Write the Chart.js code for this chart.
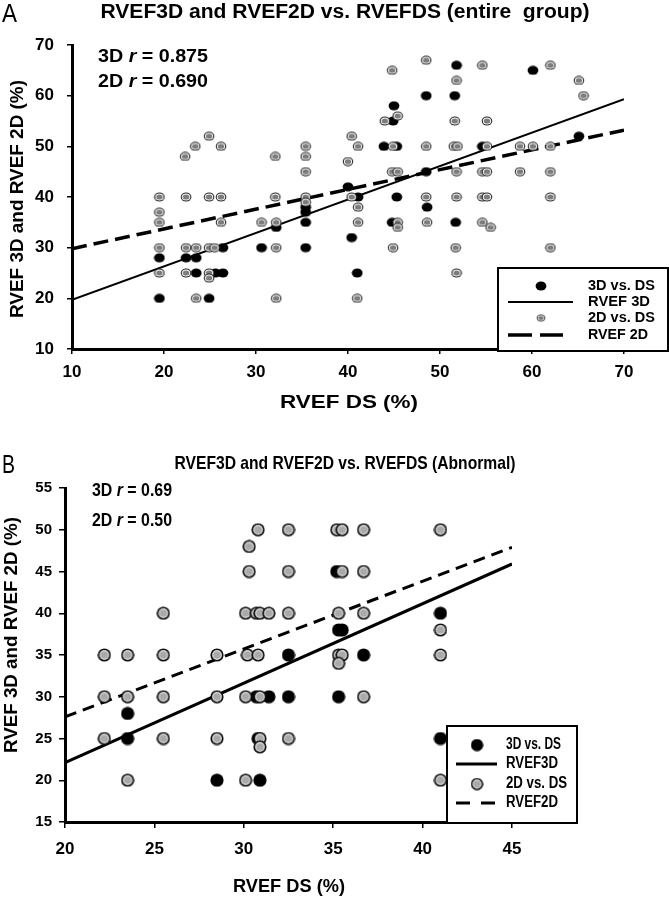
<!DOCTYPE html>
<html>
<head>
<meta charset="utf-8">
<script src="https://cdn.jsdelivr.net/npm/chart.js@4.4.1/dist/chart.umd.min.js"></script>
<style>
  body { margin: 0; background: #fff; overflow: hidden; }
  canvas { display: block; }
</style>
</head>
<body>
<canvas id="chartA" width="669" height="445"></canvas>
<canvas id="chartB" width="669" height="454"></canvas>
<script>
// panel A: entire group, [RVEF DS, RVEF 3D/2D]
const entire3D = [
  [19.5, 28], [19.5, 20], [22.4, 28], [23.5, 28], [23.5, 25], [24.9, 20], [25.6, 25], [26.4, 25],
  [26.4, 30], [30.6, 30], [32.2, 34], [35.4, 30], [35.4, 35], [35.4, 37], [35.4, 38], [40.4, 32],
  [40, 42], [41.1, 40], [41, 25], [43.9, 50], [45.3, 50], [44.9, 55], [45, 58], [45.3, 40],
  [44.8, 35], [48.5, 60], [48.5, 45], [48.6, 38], [51.8, 66], [51.6, 60], [51.7, 35], [54.6, 50],
  [60.1, 65], [65.1, 52]
];
const entire2D = [
  [19.5, 40], [19.5, 37], [19.5, 35], [19.5, 30], [19.5, 25],
  [22.3, 48], [22.4, 40], [22.4, 30], [22.4, 25], [23.4, 50], [23.5, 30], [23.5, 20],
  [24.9, 52], [24.9, 40], [24.9, 30], [24.9, 25], [24.9, 24], [25.5, 30],
  [26.2, 50], [26.2, 40], [26.2, 35], [30.6, 35],
  [32.1, 48], [32.1, 40], [32.2, 35], [32.2, 30], [32.2, 20],
  [35.4, 50], [35.4, 48], [35.4, 45], [35.4, 40], [35.4, 39],
  [40.4, 52], [41.1, 50], [40, 47], [40.4, 40], [41.1, 38], [41.1, 35], [41, 20],
  [44.8, 65], [44, 55], [45.4, 56], [44.9, 50], [44.8, 45], [45.4, 45], [45.4, 35], [45.4, 34], [44.9, 30],
  [48.5, 67], [48.5, 50], [48.5, 40], [48.6, 35],
  [51.8, 63], [51.6, 55], [51.5, 50], [51.9, 50], [51.8, 45], [51.8, 40], [51.7, 30], [51.8, 25],
  [54.6, 66], [55.1, 55], [55.1, 50], [54.6, 45], [55.1, 45], [54.6, 40], [55.1, 40], [54.6, 35], [55.5, 34],
  [58.7, 50], [60.1, 50], [62, 66], [62, 50], [58.7, 45], [62, 45], [62, 40], [62, 30],
  [65.1, 63], [65.6, 60]
];
const entireFit3D = [[10, 19.7], [70, 59.3]];
const entireFit2D = [[10, 29.8], [70, 53.2]];
const entireXTicks = [10, 20, 30, 40, 50, 60, 70];
const entireYTicks = [10, 20, 30, 40, 50, 60, 70];

// panel B: abnormal
const abn3D = [
  [23.5, 28], [23.5, 25], [28.5, 20], [30.9, 20], [30.7, 30], [31.4, 30], [32.5, 30], [35.3, 30],
  [30.8, 25], [32.5, 35], [35.3, 38], [35.5, 38], [35.2, 45], [36.7, 35], [41, 40], [41, 25]
];
const abn2D = [
  [22.2, 35], [23.5, 35], [25.5, 35], [28.5, 35], [30.2, 35], [30.8, 35], [35.3, 35], [35.5, 35], [35.3, 34],
  [22.2, 30], [23.5, 30], [25.5, 30], [28.5, 30], [30.1, 30], [30.9, 30], [36.7, 30],
  [22.2, 25], [25.5, 25], [28.5, 25], [30.9, 25], [30.9, 24], [32.5, 25],
  [23.5, 20], [30.1, 20], [41, 20],
  [25.5, 40], [30.1, 40], [30.7, 40], [30.9, 40], [31.4, 40], [32.5, 40], [35.3, 40], [36.7, 40],
  [41, 38], [41, 35],
  [30.3, 45], [32.5, 45], [35.5, 45], [36.7, 45], [30.3, 48],
  [30.8, 50], [32.5, 50], [35.2, 50], [35.5, 50], [36.7, 50], [41, 50]
];
const abnFit3D = [[20, 22.1], [45, 45.9]];
const abnFit2D = [[20, 27.6], [45, 47.9]];
const abnXTicks = [20, 25, 30, 35, 40, 45];
const abnYTicks = [15, 20, 25, 30, 35, 40, 45, 50, 55];

const SANS = "'Liberation Sans', Arial, sans-serif";
const toXY = pairs => pairs.map(([x, y]) => ({ x, y }));

function marker(w, h, rings) {
  const c = document.createElement('canvas');
  c.width = w; c.height = h;
  const g = c.getContext('2d');
  rings.forEach(([rx, ry, col]) => {
    g.fillStyle = col;
    g.beginPath();
    g.ellipse(w / 2, h / 2, rx, ry, 0, 0, Math.PI * 2);
    g.fill();
  });
  return c;
}

const markA3D = marker(12, 10, [[5.4, 4.5, '#000']]);
const markA2D = marker(12, 10, [[5.3, 4.6, '#262626'], [4.2, 3.5, '#fff'], [3.2, 2.6, '#7c7c7c']]);
const markB3D = marker(14, 14, [[6.6, 6.6, '#000']]);
const markB2D = marker(14, 14, [[6.6, 6.6, '#111'], [4.9, 4.9, '#d6d6d6'], [3.6, 3.6, '#a9a9a9']]);

// text squeezed/stretched to the width seen in the picture
function fitText(ctx, parts, cx, cy, w, rot) {
  ctx.save();
  let total = 0;
  parts.forEach(p => { ctx.font = p[1]; total += ctx.measureText(p[0]).width; });
  ctx.translate(cx, cy);
  if (rot) ctx.rotate(rot);
  ctx.scale(w / total, 1);
  ctx.textBaseline = 'middle';
  ctx.textAlign = 'left';
  ctx.fillStyle = '#000';
  let x = -total / 2;
  parts.forEach(p => {
    ctx.font = p[1];
    ctx.fillText(p[0], x, 0);
    x += ctx.measureText(p[0]).width;
  });
  ctx.restore();
}

const panelText = {
  id: 'panelText',
  afterDraw(chart, args, opts) {
    const ctx = chart.ctx;
    opts.items.forEach(it => fitText(ctx, it.t, it.cx, it.cy, it.w, it.rot));
    const L = opts.legend;
    ctx.save();
    ctx.fillStyle = '#fff';
    ctx.fillRect(L.box[0], L.box[1], L.box[2] - L.box[0], L.box[3] - L.box[1]);
    ctx.lineWidth = 2;
    ctx.strokeStyle = '#000';
    ctx.strokeRect(L.box[0], L.box[1], L.box[2] - L.box[0], L.box[3] - L.box[1]);
    L.rows.forEach(r => {
      if (r.img) {
        ctx.drawImage(r.img, r.x - r.s[0] / 2, r.y - r.s[1] / 2, r.s[0], r.s[1]);
      } else {
        ctx.beginPath();
        ctx.setLineDash(r.dash || []);
        ctx.lineWidth = r.lw;
        ctx.moveTo(r.x1, r.y);
        ctx.lineTo(r.x2, r.y);
        ctx.stroke();
        ctx.setLineDash([]);
      }
      fitText(ctx, [[r.label, L.font]], r.tx + r.tw / 2, r.y, r.tw);
    });
    ctx.restore();
  }
};

function axis(ticksArr, size, pad, tl, fit) {
  return {
    type: 'linear',
    min: ticksArr[0],
    max: ticksArr[ticksArr.length - 1],
    afterBuildTicks: s => { s.ticks = ticksArr.map(v => ({ value: v })); },
    afterFit: fit,
    ticks: { font: { family: SANS, size, weight: 'bold' }, color: '#000', padding: pad, maxRotation: 0 },
    grid: { drawOnChartArea: false, tickLength: tl, color: '#000', lineWidth: 1.5 },
    border: { color: '#000', width: 3 }
  };
}

const B17 = `bold 18px ${SANS}`, BI17 = `italic bold 18px ${SANS}`;

new Chart(document.getElementById('chartA'), {
  type: 'scatter',
  data: {
    datasets: [
      { label: '2D vs. DS', data: toXY(entire2D), pointStyle: markA2D, pointRadius: 5 },
      { label: '3D vs. DS', data: toXY(entire3D), pointStyle: markA3D, pointRadius: 5 },
      { label: 'RVEF 3D', data: toXY(entireFit3D), showLine: true, borderColor: '#000', borderWidth: 2, pointRadius: 0 },
      { label: 'RVEF 2D', data: toXY(entireFit2D), showLine: true, borderColor: '#000', borderWidth: 3.5, borderDash: [15, 7], pointRadius: 0 }
    ]
  },
  options: {
    responsive: false,
    animation: false,
    events: [],
    layout: { padding: { left: 0, top: 45, right: 45, bottom: 0 } },
    scales: {
      x: axis(entireXTicks, 17, 8, 5, s => { s.height = 96; }),
      y: axis(entireYTicks, 17, 13, 5, s => { s.width = 72; })
    },
    plugins: {
      legend: { display: false },
      tooltip: { enabled: false },
      panelText: {
        items: [
          { t: [['A', `26px ${SANS}`]], cx: 9.5, cy: 15, w: 15 },
          { t: [['RVEF3D and RVEF2D vs. RVEFDS (entire  group)', `bold 20px ${SANS}`]], cx: 345, cy: 12, w: 489 },
          { t: [['3D ', B17], ['r', BI17], [' = 0.875', B17]], cx: 153, cy: 57, w: 110 },
          { t: [['2D ', B17], ['r', BI17], [' = 0.690', B17]], cx: 153, cy: 82, w: 110 },
          { t: [['RVEF DS (%)', `bold 19px ${SANS}`]], cx: 349, cy: 403, w: 138 },
          { t: [['RVEF 3D and RVEF 2D (%)', `bold 19px ${SANS}`]], cx: 18, cy: 199, w: 238, rot: -Math.PI / 2 }
        ],
        legend: {
          box: [498, 268, 668, 351],
          font: `bold 14px ${SANS}`,
          rows: [
            { img: markA3D, x: 541, y: 286, s: [12, 10], label: '3D vs. DS', tx: 588, tw: 67 },
            { x1: 508, x2: 573, y: 302, lw: 2, label: 'RVEF 3D', tx: 588, tw: 62 },
            { img: markA2D, x: 541, y: 318, s: [10, 8], label: '2D vs. DS', tx: 588, tw: 67 },
            { x1: 508, x2: 563, y: 335, lw: 3.5, dash: [24, 8], label: 'RVEF 2D', tx: 588, tw: 60 }
          ]
        }
      }
    }
  },
  plugins: [panelText]
});

const N17 = `bold 18px ${SANS}`, NI17 = `italic bold 18px ${SANS}`;

new Chart(document.getElementById('chartB'), {
  type: 'scatter',
  data: {
    datasets: [
      { label: '2D vs. DS', data: toXY(abn2D), pointStyle: markB2D, pointRadius: 6 },
      { label: '3D vs. DS', data: toXY(abn3D), pointStyle: markB3D, pointRadius: 6 },
      { label: 'RVEF3D', data: toXY(abnFit3D), showLine: true, borderColor: '#000', borderWidth: 3, pointRadius: 0 },
      { label: 'RVEF2D', data: toXY(abnFit2D), showLine: true, borderColor: '#000', borderWidth: 3, borderDash: [12, 7], pointRadius: 0 }
    ]
  },
  options: {
    responsive: false,
    animation: false,
    events: [],
    layout: { padding: { left: 0, top: 43, right: 157, bottom: 0 } },
    scales: {
      x: axis(abnXTicks, 17, 11, 6, s => { s.height = 77; }),
      y: axis(abnYTicks, 15, 7, 6, s => { s.width = 65; })
    },
    plugins: {
      legend: { display: false },
      tooltip: { enabled: false },
      panelText: {
        items: [
          { t: [['B', `26px ${SANS}`]], cx: 8.5, cy: 21, w: 13 },
          { t: [['RVEF3D and RVEF2D vs. RVEFDS (Abnormal)', `bold 19px ${SANS}`]], cx: 345, cy: 19, w: 341 },
          { t: [['3D ', N17], ['r', NI17], [' = 0.69', N17]], cx: 132, cy: 46, w: 80 },
          { t: [['2D ', N17], ['r', NI17], [' = 0.50', N17]], cx: 132, cy: 76, w: 80 },
          { t: [['RVEF DS (%)', `bold 18px ${SANS}`]], cx: 289, cy: 442, w: 112 },
          { t: [['RVEF 3D and RVEF 2D (%)', `bold 19px ${SANS}`]], cx: 12, cy: 190, w: 236, rot: -Math.PI / 2 }
        ],
        legend: {
          box: [447, 281, 577, 378],
          font: `bold 16px ${SANS}`,
          rows: [
            { img: markB3D, x: 477, y: 300, s: [13, 13], label: '3D vs. DS', tx: 506, tw: 55 },
            { x1: 456, x2: 497, y: 319, lw: 3, label: 'RVEF3D', tx: 506, tw: 52 },
            { img: markB2D, x: 477, y: 339, s: [13, 13], label: '2D vs. DS', tx: 506, tw: 61 },
            { x1: 456, x2: 497, y: 358, lw: 3, dash: [14, 11], label: 'RVEF2D', tx: 506, tw: 52 }
          ]
        }
      }
    }
  },
  plugins: [panelText]
});
</script>
</body>
</html>
